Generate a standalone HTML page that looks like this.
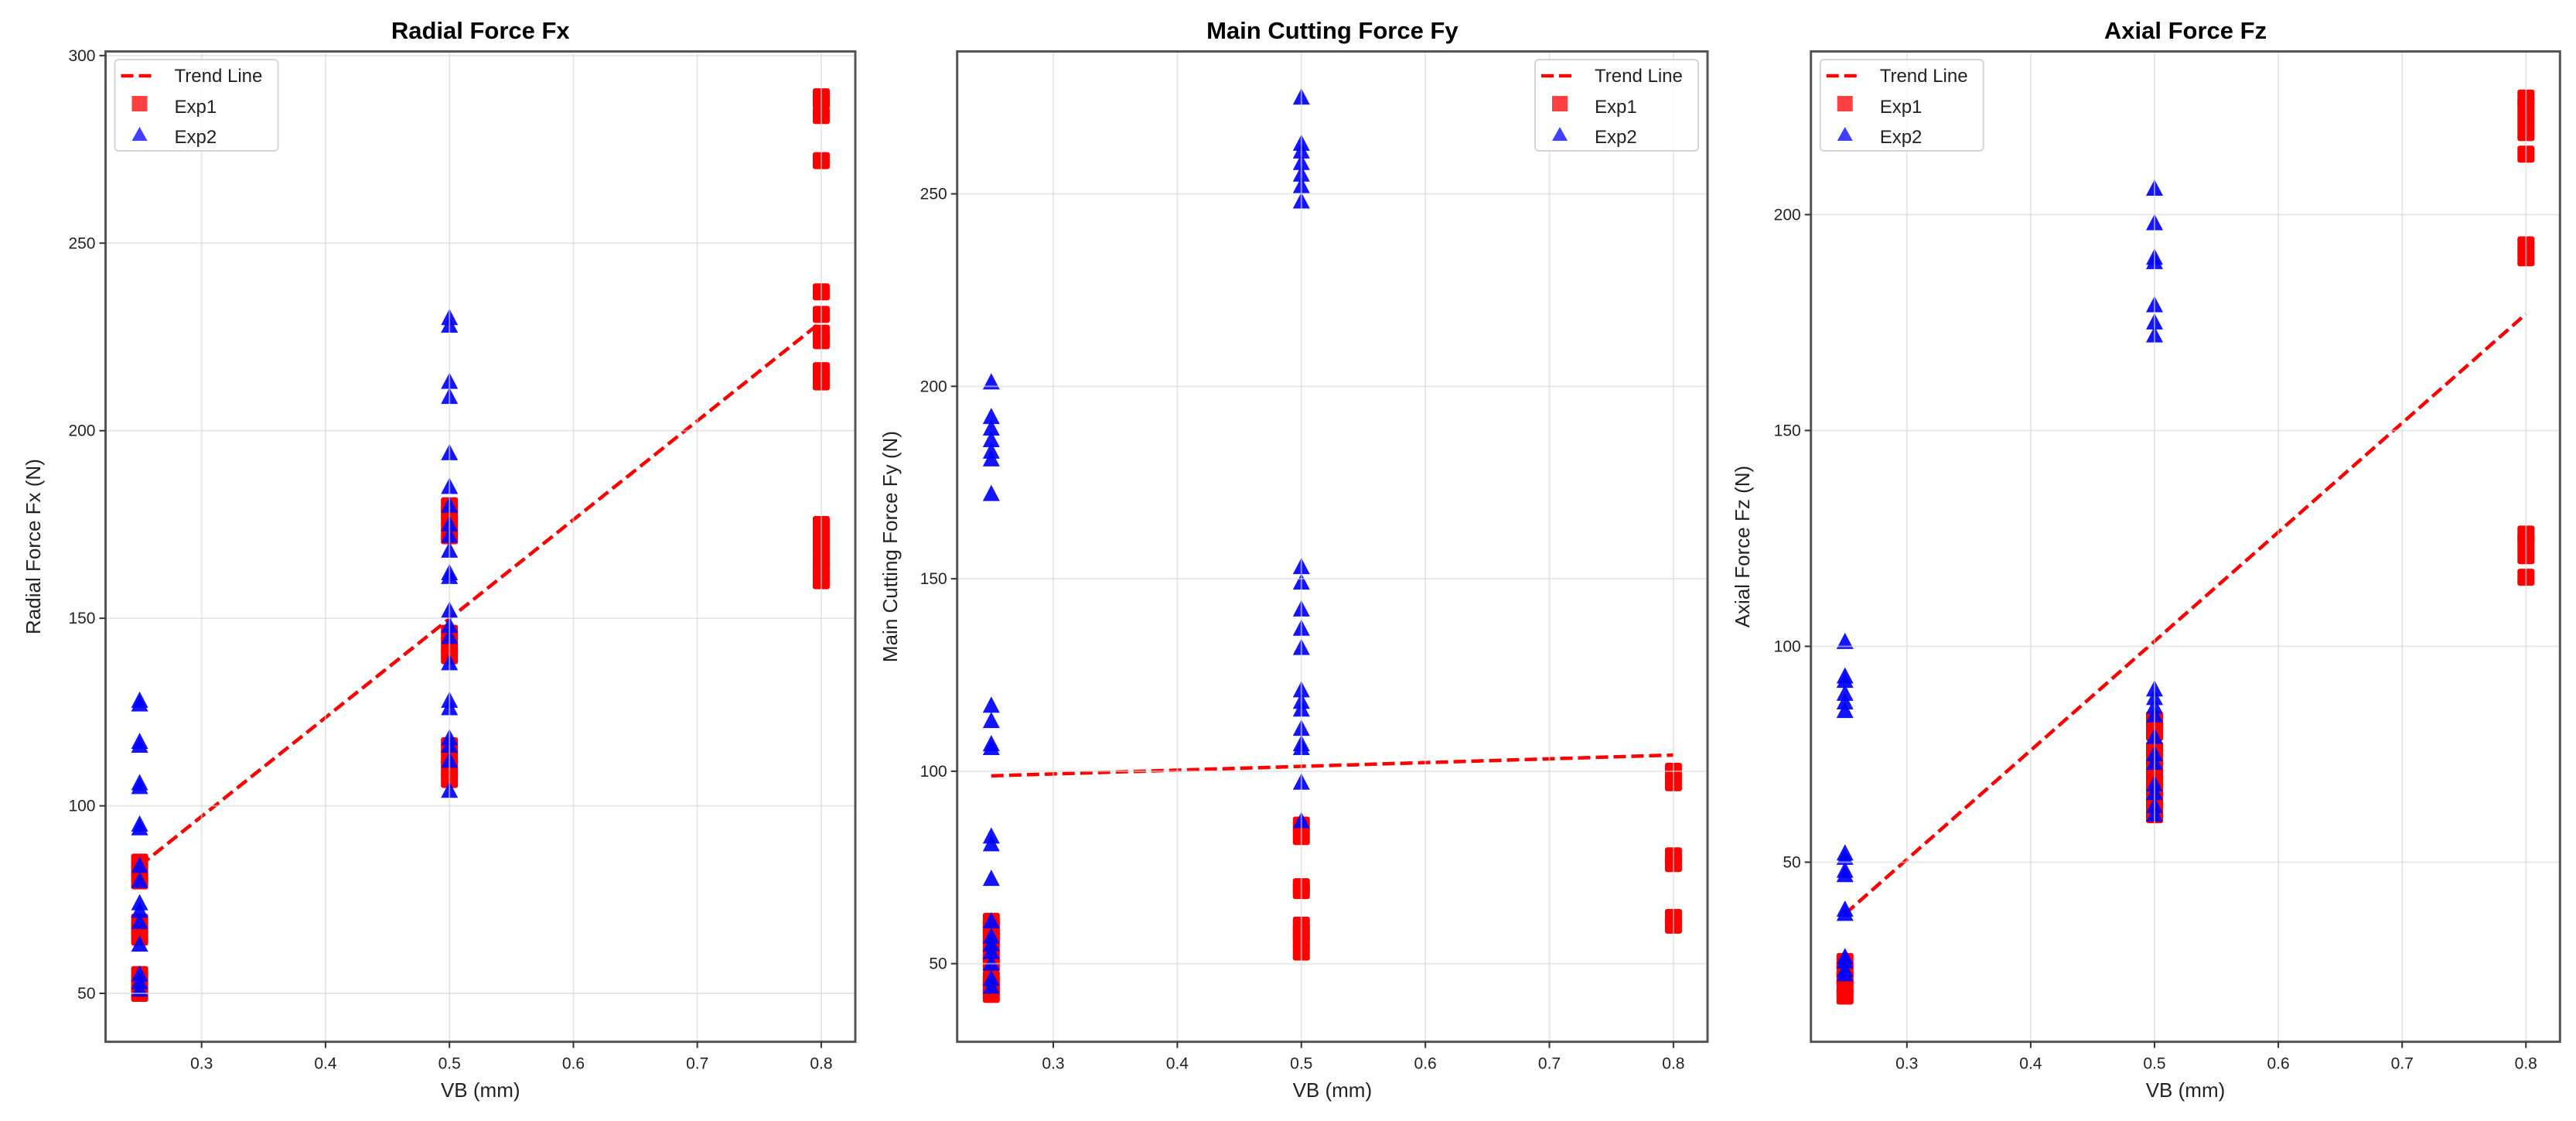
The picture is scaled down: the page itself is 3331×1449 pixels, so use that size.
<!DOCTYPE html>
<html><head><meta charset="utf-8"><style>
html,body{margin:0;padding:0;background:#fff;}
svg{display:block;font-family:"Liberation Sans","DejaVu Sans",sans-serif;}
</style></head><body>
<svg id="fig" width="3331" height="1449" viewBox="0 0 3331 1449" xmlns="http://www.w3.org/2000/svg"></svg>
<script>
const xTicks = [0.3,0.4,0.5,0.6,0.7,0.8];
// Panel 1: Radial Force Fx
const fxExp1X = [0.25,0.25,0.25,0.25,0.25,0.25,0.25,0.25,0.25, 0.5,0.5,0.5,0.5,0.5,0.5,0.5,0.5,0.5,0.5,0.5, 0.8,0.8,0.8,0.8,0.8,0.8,0.8,0.8,0.8,0.8,0.8,0.8,0.8,0.8,0.8,0.8];
const fxExp1Y = [50,52,55,65,67,69,80,83,85, 107,110,113,116,140,143,146,172,175,178,180, 160,163,166,169,172,175,213,216,224,226,231,237,272,284,288,289];
const fxExp2X = [0.25,0.25,0.25,0.25,0.25,0.25,0.25,0.25,0.25,0.25,0.25,0.25,0.25,0.25,0.25,0.25,0.25, 0.5,0.5,0.5,0.5,0.5,0.5,0.5,0.5,0.5,0.5,0.5,0.5,0.5,0.5,0.5,0.5,0.5,0.5,0.5,0.5,0.5,0.5];
const fxExp2Y = [51,53,55,63,69,72,74,80,84,94,95,105,106,116,117,127,128, 104,112,116,118,126,128,138,145,148,152,161,162,168,172,175,180,185,194,209,213,228,230];
const fxTrend = [84,229];
const fxTicks = [50,100,150,200,250,300];
// Panel 2: Main Cutting Force Fy
const fyExp1X = [0.25,0.25,0.25,0.25,0.25,0.25,0.25,0.25,0.25, 0.5,0.5,0.5,0.5,0.5,0.5,0.5,0.5, 0.8,0.8,0.8,0.8,0.8,0.8];
const fyExp1Y = [42,44,46,50,52,55,57,59,61, 53,56,58,60,69,70,83,86, 60,62,76,78,97,100];
const fyExp2X = [0.25,0.25,0.25,0.25,0.25,0.25,0.25,0.25,0.25,0.25,0.25,0.25,0.25,0.25,0.25,0.25,0.25,0.25,0.25,0.25,0.25, 0.5,0.5,0.5,0.5,0.5,0.5,0.5,0.5,0.5,0.5,0.5,0.5,0.5,0.5,0.5,0.5,0.5,0.5,0.5,0.5];
const fyExp2Y = [44,46,50,53,55,57,61,72,81,83,106,107,113,117,172,181,183,186,189,192,201, 87,97,106,107,111,116,118,121,132,137,142,149,153,248,252,255,258,261,263,275];
const fyTrend = [98.8,104.2];
const fyTicks = [50,100,150,200,250];
// Panel 3: Axial Force Fz
const fzExp1X = [0.25,0.25,0.25,0.25,0.25, 0.5,0.5,0.5,0.5,0.5,0.5,0.5,0.5, 0.8,0.8,0.8,0.8,0.8,0.8,0.8,0.8,0.8,0.8,0.8];
const fzExp1Y = [19,21,23,25,27, 61,64,67,70,73,76,80,83, 116,121,124,126,190,193,214,219,222,225,227];
const fzExp2X = [0.25,0.25,0.25,0.25,0.25,0.25,0.25,0.25,0.25,0.25,0.25,0.25,0.25,0.25,0.25,0.25, 0.5,0.5,0.5,0.5,0.5,0.5,0.5,0.5,0.5,0.5,0.5,0.5,0.5,0.5,0.5,0.5,0.5,0.5];
const fzExp2Y = [24,25,27,28,38,39,47,48,51,52,85,87,89,92,93,101, 61,63,66,68,73,75,79,84,86,88,90,172,175,179,189,190,198,206];
const fzTrend = [38,177];
const fzTicks = [50,100,150,200];
const trendX = [0.25,0.8];

const NS = "http://www.w3.org/2000/svg";
const fig = document.getElementById('fig');
function mk(tag, attrs, parent){const e=document.createElementNS(NS,tag);for(const k in attrs)e.setAttribute(k,attrs[k]);(parent||fig).appendChild(e);return e;}

function panel(cfg){
  const g = mk('g',{});
  
  
  const L=cfg.left,R=cfg.right,T=66.5,B=1346.6;
  const xs=v=>L+(v-0.2225)/(0.8275-0.2225)*(R-L);
  const ys=v=>B-(v-cfg.ymin)/(cfg.ymax-cfg.ymin)*(B-T);
  // trend
  const tr=mk('line',{x1:xs(trendX[0]),y1:ys(cfg.trend[0]),x2:xs(trendX[1]),y2:ys(cfg.trend[1]),stroke:'#ff0000','stroke-width':4.5,'stroke-dasharray':'16,7'},g);
  
  
  // exp1 squares
  cfg.e1x.forEach((x,i)=>{const r=mk('rect',{x:xs(x)-11,y:ys(cfg.e1y[i])-11,width:22,height:22,rx:3,fill:'#ff0000'},g);
    
    });
  // exp2 triangles
  cfg.e2x.forEach((x,i)=>{const cx=xs(x),cy=ys(cfg.e2y[i]);
    const p=mk('polygon',{points:`${cx},${cy-12} ${cx-11},${cy+9} ${cx+11},${cy+9}`,fill:'#0000ff','fill-opacity':0.92},g);
    
    });
  // grid (drawn above markers, faint)
  xTicks.forEach(t=>{const l=mk('line',{x1:xs(t),x2:xs(t),y1:T,y2:B,stroke:'#d8d8d8','stroke-opacity':0.6,'stroke-width':2},g);
    
    });
  cfg.yticks.forEach(t=>{const l=mk('line',{x1:L,x2:R,y1:ys(t),y2:ys(t),stroke:'#d8d8d8','stroke-opacity':0.6,'stroke-width':2},g);
    
    });
  // spines
  const sp=mk('rect',{x:L,y:T,width:R-L,height:B-T,fill:'none',stroke:'#555','stroke-width':3},g);
  
  
  // ticks
  xTicks.forEach(t=>{mk('line',{x1:xs(t),x2:xs(t),y1:B,y2:B+8,stroke:'#333','stroke-width':2},g);
    const tx=mk('text',{x:xs(t),y:B+35,'text-anchor':'middle','font-size':21,fill:'#222'},g);tx.textContent=t.toFixed(1);
    
    });
  cfg.yticks.forEach(t=>{mk('line',{x1:L-8,x2:L,y1:ys(t),y2:ys(t),stroke:'#333','stroke-width':2},g);
    const tx=mk('text',{x:L-13,y:ys(t)+7,'text-anchor':'end','font-size':21,fill:'#222'},g);tx.textContent=t;
    
    });
  // labels
  const xl=mk('text',{x:(L+R)/2,y:1418,'text-anchor':'middle','font-size':26,fill:'#222'},g);xl.textContent='VB (mm)';
  
  
  const yl=mk('text',{x:0,y:0,'text-anchor':'middle','font-size':26,fill:'#222',transform:`translate(${cfg.ylx},${(T+B)/2}) rotate(-90)`},g);yl.textContent=cfg.ylabel;
  
  
  const ti=mk('text',{x:(L+R)/2,y:50,'text-anchor':'middle','font-size':31,'font-weight':'bold',fill:'#000'},g);ti.textContent=cfg.title;
  
  
  // legend
  const lx=cfg.legRight?R-12-211:L+12;
  const lg=mk('g',{},g);
  
  
  mk('rect',{x:lx,y:77,width:211,height:118,rx:5,fill:'#fff','fill-opacity':0.85,stroke:'#d5d5d5','stroke-width':2},lg);
  mk('line',{x1:lx+8,x2:lx+52,y1:98,y2:98,stroke:'#ff0000','stroke-width':4.5,'stroke-dasharray':'16,7'},lg);
  mk('rect',{x:lx+22,y:124,width:20,height:20,fill:'#ff0000','fill-opacity':0.75},lg);
  mk('polygon',{points:`${lx+32},${164} ${lx+22},${182} ${lx+42},${182}`,fill:'#0000ff','fill-opacity':0.75},lg);
  [['Trend Line',106],['Exp1',146],['Exp2',185]].forEach(([s,y])=>{const t=mk('text',{x:lx+77,y:y,'font-size':24,fill:'#222'},lg);t.textContent=s;
    
    });
}
panel({id:'fx',left:136.5,right:1106,ymin:37.1,ymax:301.1,yticks:fxTicks,trend:fxTrend,e1x:fxExp1X,e1y:fxExp1Y,e2x:fxExp2X,e2y:fxExp2Y,ylx:52,ylabel:'Radial Force Fx (N)',title:'Radial Force Fx',legRight:false});
panel({id:'fy',left:1237.7,right:2208,ymin:29.7,ymax:287,yticks:fyTicks,trend:fyTrend,e1x:fyExp1X,e1y:fyExp1Y,e2x:fyExp2X,e2y:fyExp2Y,ylx:1160,ylabel:'Main Cutting Force Fy (N)',title:'Main Cutting Force Fy',legRight:true});
panel({id:'fz',left:2341.7,right:3310.3,ymin:8.4,ymax:237.8,yticks:fzTicks,trend:fzTrend,e1x:fzExp1X,e1y:fzExp1Y,e2x:fzExp2X,e2y:fzExp2Y,ylx:2262,ylabel:'Axial Force Fz (N)',title:'Axial Force Fz',legRight:false});
</script>
</body></html>
